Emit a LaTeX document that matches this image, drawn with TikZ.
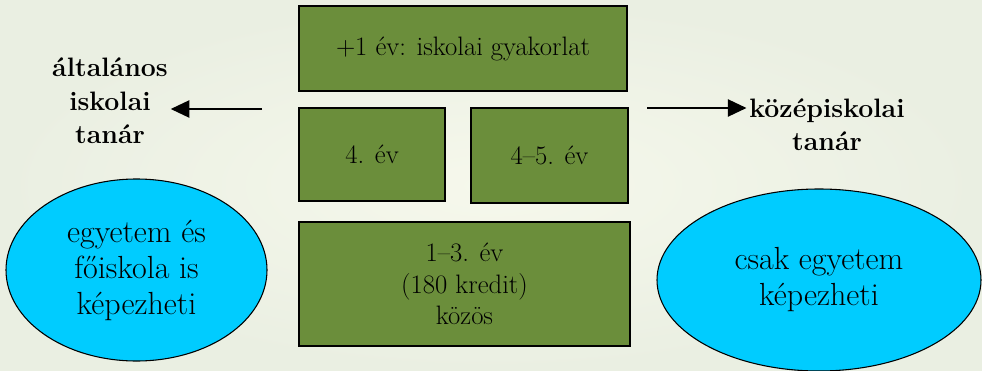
\documentclass[tikz,border=0pt]{standalone}
\usepackage{fontspec}
\usepackage{tikz}
\usetikzlibrary{arrows.meta,shapes.geometric}
\definecolor{bginner}{RGB}{246,248,236}
\definecolor{bgouter}{RGB}{234,239,226}
\definecolor{boxgreen}{RGB}{107,142,59}
\definecolor{ovalblue}{RGB}{0,204,255}
\tikzstyle{yearbox}=[draw=black,line width=0.8pt,fill=boxgreen,align=center,font=\fontsize{20}{23.5}\selectfont,inner sep=0pt]
\tikzstyle{school}=[ellipse,draw=black,line width=0.8pt,fill=ovalblue,align=center,font=\fontsize{24}{27}\selectfont,inner sep=0pt]
\tikzstyle{teacher}=[align=center,font=\fontsize{20}{25}\selectfont\bfseries,inner sep=2pt]
\tikzstyle{arr} = [draw,line width=1.2pt,-{Triangle[length=14pt,width=13pt]}]

\begin{document}
\begin{tikzpicture}[x=0.75pt,y=-0.75pt]
    % background of the slide
    \shade[inner color=bginner,outer color=bgouter] (0,0) rectangle (982,371);
    \useasboundingbox (0,0) rectangle (982,371);
    % First we draw the year boxes
    \node[yearbox,minimum width=246pt,minimum height=63.75pt] (gyak) at (463,48.5) {+1 év: iskolai gyakorlat};
    \node[yearbox,minimum width=109.5pt,minimum height=69.75pt] (ev4) at (372,154.5) {4. év};
    \node[yearbox,minimum width=117.75pt,minimum height=71.25pt] (ev45) at (549.5,155.5) {4--5. év};
    \node[yearbox,minimum width=248.25pt,minimum height=93pt] (kozos) at (464.5,284) {1--3. év\\(180 kredit)\\közös};
    % the two ovals
    \node[school,minimum width=195.75pt,minimum height=136.5pt] (foiskola) at (136.5,270) {egyetem és\\főiskola is\\képezheti};
    \node[school,minimum width=243pt,minimum height=136.5pt] (egyetem) at (819,280) {csak egyetem\\képezheti};
    % teachers and arrows
    \node[teacher] (altalanos) at (110,101) {általános\\iskolai\\tanár};
    \node[teacher] (kozep) at (827,125) {középiskolai\\tanár};
    \coordinate (fromL) at (262,109);
    \coordinate (fromR) at (647,108);
    \path[arr] (fromL) -- (altalanos.east |- fromL);
    \path[arr] (fromR) -- (kozep.west |- fromR);
\end{tikzpicture}
\end{document}
